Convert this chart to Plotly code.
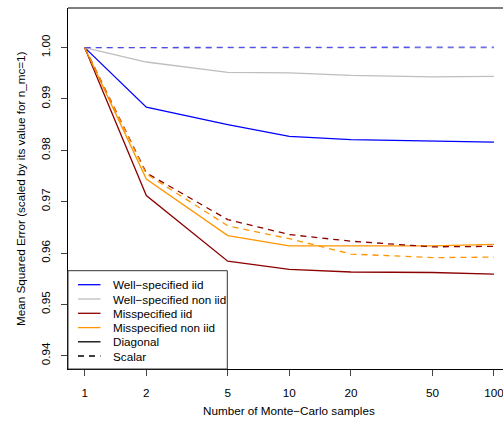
import plotly.graph_objects as go

n_mc = [1, 2, 5, 10, 20, 50, 100]

wellspec_iid_diag = [1.0, 0.9884, 0.9850, 0.9827, 0.9821, 0.9818, 0.9816]
wellspec_noniid_diag = [1.0, 0.9972, 0.9952, 0.9951, 0.9946, 0.9943, 0.9944]
misspec_iid_diag = [1.0, 0.9712, 0.9584, 0.9568, 0.9563, 0.9562, 0.9559]
misspec_noniid_diag = [1.0, 0.9744, 0.9634, 0.9614, 0.9614, 0.9614, 0.9617]

wellspec_iid_scalar = [1.0, 1.0, 1.0, 1.0, 1.0001, 1.0001, 1.0001]
wellspec_noniid_scalar = [1.0, 0.99995, 0.99995, 0.99995, 0.99995, 0.99995, 0.99995]
misspec_iid_scalar = [1.0, 0.9756, 0.9665, 0.9636, 0.9623, 0.9612, 0.9613]
misspec_noniid_scalar = [1.0, 0.9754, 0.9653, 0.9628, 0.9598, 0.9591, 0.9592]

x_ticks = [1, 2, 5, 10, 20, 50, 100]
y_ticks = [0.94, 0.95, 0.96, 0.97, 0.98, 0.99, 1.00]
y_tick_labels = ["0.94", "0.95", "0.96", "0.97", "0.98", "0.99", "1.00"]

legend_labels = ["Well\u2212specified iid", "Well\u2212specified non iid", "Misspecified iid",
                 "Misspecified non iid", "Diagonal", "Scalar"]

BLUE = "#0000FF"
GRAY = "#BEBEBE"
RED = "#8B0000"
ORANGE = "#FF9500"
legend_colors = [BLUE, GRAY, RED, ORANGE, "#000000", "#000000"]
legend_dash = ["solid", "solid", "solid", "solid", "solid", "6px,5px"]

FONT = "Liberation Sans, Arial, Helvetica, sans-serif"
FS = 11.7
LW = 1.3
DASH = "6px,5px"

fig = go.Figure()
series = [
    (wellspec_iid_diag, BLUE, "solid", 1.0),
    (wellspec_noniid_diag, GRAY, "solid", 1.0),
    (misspec_iid_diag, RED, "solid", 1.0),
    (misspec_noniid_diag, ORANGE, "solid", 1.0),
    (wellspec_noniid_scalar, GRAY, DASH, 1.0),
    (wellspec_iid_scalar, BLUE, DASH, 0.6),
    (misspec_iid_scalar, RED, DASH, 1.0),
    (misspec_noniid_scalar, ORANGE, DASH, 1.0),
]
for ys, col, dash, op in series:
    fig.add_trace(go.Scatter(x=n_mc, y=ys, mode="lines", opacity=op,
                             line=dict(color=col, width=LW, dash=dash),
                             showlegend=False, hoverinfo="skip"))

W, H = 503, 427
L, R, T, B = 68, 0, 8, 58
pw, ph = W - L - R, H - T - B


def px(xp):
    return (xp - L) / pw


def py(yp):
    return (H - B - yp) / ph


shapes = []
annotations = []
# top border of the box
shapes.append(dict(type="line", xref="paper", yref="paper", x0=0, x1=1, y0=1, y1=1,
                   line=dict(color="black", width=1)))
# legend box
shapes.append(dict(type="rect", xref="paper", yref="paper", x0=0, x1=px(227.3),
                   y0=0, y1=py(270.7), line=dict(color="#333333", width=1),
                   fillcolor="white", layer="above"))
legend_y = [284.7, 299.0, 313.3, 327.6, 341.8, 356.0]
for lab, col, dsh, yy in zip(legend_labels, legend_colors, legend_dash, legend_y):
    shapes.append(dict(type="line", xref="paper", yref="paper", x0=px(78), x1=px(100.5),
                       y0=py(yy), y1=py(yy), line=dict(color=col, width=LW, dash=dsh),
                       layer="above"))
    annotations.append(dict(xref="paper", yref="paper", x=px(110.5), y=py(yy),
                            xanchor="left", yanchor="middle", text=lab, showarrow=False,
                            font=dict(family=FONT, size=FS, color="black")))

annotations.append(dict(xref="paper", yref="paper", x=px(289), y=py(410),
                        xanchor="center", yanchor="middle",
                        text="Number of Monte\u2212Carlo samples", showarrow=False,
                        font=dict(family=FONT, size=FS, color="black")))
annotations.append(dict(xref="paper", yref="paper", x=px(20.5), y=py(188.5),
                        xanchor="center", yanchor="middle", textangle=-90,
                        text="Mean Squared Error (scaled by its value for n_mc=1)",
                        showarrow=False,
                        font=dict(family=FONT, size=FS, color="black")))

fig.update_layout(
    width=W, height=H,
    margin=dict(l=L, r=R, t=T, b=B, pad=0),
    paper_bgcolor="white", plot_bgcolor="white",
    font=dict(family=FONT, size=FS, color="black"),
    shapes=shapes, annotations=annotations,
    showlegend=False,
)
fig.update_xaxes(type="log", range=[-0.0817, 2.0441], tickvals=x_ticks,
                 ticktext=[str(v) for v in x_ticks],
                 showgrid=False, zeroline=False, showline=True, linecolor="black",
                 linewidth=1, ticks="outside", ticklen=6, tickcolor="#444444",
                 tickwidth=1, ticklabelstandoff=7, ticklabeloverflow="allow",
                 tickfont=dict(family=FONT, size=FS, color="black"))
fig.update_yaxes(range=[0.93741, 1.00772], tickvals=y_ticks, ticktext=y_tick_labels,
                 showgrid=False, zeroline=False, showline=True, linecolor="black",
                 linewidth=1, ticks="outside", ticklen=6, tickcolor="#444444",
                 tickwidth=1, tickangle=-90, ticklabelstandoff=6, ticklabeloverflow="allow",
                 tickfont=dict(family=FONT, size=FS, color="black"))

fig.write_html("out.html", config={"displayModeBar": False},
               post_script="document.body.style.margin='0';document.body.style.overflow='hidden';")
